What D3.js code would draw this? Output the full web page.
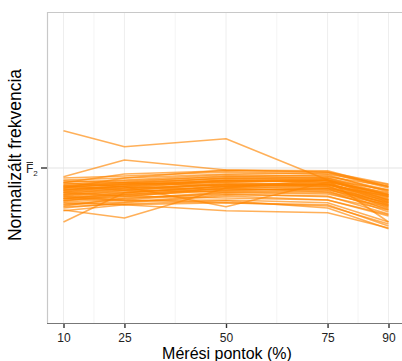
<!DOCTYPE html>
<html>
<head>
<meta charset="utf-8">
<script src="https://cdn.jsdelivr.net/npm/d3@7"></script>
<style>
  body { margin: 0; background: #fff; }
  svg { display: block; font-family: "Liberation Sans", Arial, sans-serif; }
</style>
</head>
<body>
<div id="chart"></div>
<script>
// measurement points (% of vowel duration)
var points = [10, 25, 50, 75, 90];
var xMinorBreaks = [17.5, 37.5, 62.5, 82.5];

// normalized F2 values, one row per curve (1 = mean F2)
var curves = [
  [1.093, 1.053, 1.073, 0.970, 0.933],
  [0.978, 1.020, 0.995, 0.990, 0.953],
  [0.895, 0.875, 0.950, 0.970, 0.920],
  [0.865, 0.938, 0.955, 0.960, 0.908],
  [0.945, 0.953, 0.903, 0.965, 0.933],
  [0.893, 0.908, 0.893, 0.888, 0.850],
  [0.975, 0.980, 0.990, 0.985, 0.958],
  [0.970, 0.975, 0.985, 0.988, 0.950],
  [0.965, 0.970, 0.983, 0.980, 0.945],
  [0.960, 0.968, 0.978, 0.983, 0.940],
  [0.958, 0.963, 0.975, 0.978, 0.955],
  [0.955, 0.965, 0.980, 0.975, 0.935],
  [0.953, 0.958, 0.970, 0.973, 0.930],
  [0.950, 0.960, 0.975, 0.970, 0.945],
  [0.948, 0.953, 0.965, 0.968, 0.925],
  [0.945, 0.955, 0.970, 0.963, 0.920],
  [0.943, 0.950, 0.968, 0.965, 0.938],
  [0.940, 0.948, 0.960, 0.960, 0.915],
  [0.938, 0.945, 0.963, 0.958, 0.930],
  [0.935, 0.950, 0.958, 0.955, 0.910],
  [0.933, 0.940, 0.955, 0.960, 0.923],
  [0.930, 0.943, 0.960, 0.953, 0.905],
  [0.928, 0.938, 0.953, 0.950, 0.918],
  [0.925, 0.933, 0.950, 0.955, 0.900],
  [0.923, 0.935, 0.948, 0.945, 0.913],
  [0.920, 0.930, 0.945, 0.948, 0.895],
  [0.918, 0.928, 0.950, 0.940, 0.908],
  [0.915, 0.923, 0.940, 0.943, 0.890],
  [0.910, 0.920, 0.938, 0.935, 0.903],
  [0.908, 0.915, 0.933, 0.930, 0.885],
  [0.905, 0.925, 0.935, 0.928, 0.895],
  [0.900, 0.913, 0.930, 0.920, 0.883],
  [0.968, 0.963, 0.955, 0.958, 0.928],
  [0.963, 0.953, 0.945, 0.950, 0.913],
  [0.955, 0.945, 0.940, 0.938, 0.898],
  [0.938, 0.930, 0.925, 0.920, 0.880],
  [0.925, 0.918, 0.920, 0.913, 0.865],
  [0.913, 0.908, 0.913, 0.908, 0.855],
  [0.903, 0.910, 0.918, 0.900, 0.848],
  [0.930, 0.920, 0.913, 0.905, 0.860],
  [0.963, 0.985, 0.993, 0.990, 0.960],
  [0.950, 0.975, 0.995, 0.993, 0.953],
  [0.945, 0.958, 0.965, 0.970, 0.865],
  [0.950, 0.963, 0.973, 0.975, 0.943],
  [0.940, 0.955, 0.968, 0.970, 0.928],
  [0.933, 0.945, 0.958, 0.963, 0.915],
  [0.923, 0.938, 0.953, 0.958, 0.920],
  [0.955, 0.960, 0.968, 0.968, 0.933],
  [0.918, 0.933, 0.943, 0.948, 0.905]
];

var width = 402, height = 361;
var panel = { left: 47, top: 12, right: width + 10, bottom: 323 };

var x = d3.scaleLinear().domain([10, 90]).range([63.5, 388.5]);
var y = d3.scaleLinear().domain([0.6125, 1.39]).range([panel.bottom, panel.top]);

var svg = d3.select("#chart").append("svg")
  .attr("width", width)
  .attr("height", height);

// grid
var grid = svg.append("g");
grid.selectAll("line.minor")
  .data(xMinorBreaks)
  .enter().append("line")
  .attr("x1", function(d) { return x(d); })
  .attr("x2", function(d) { return x(d); })
  .attr("y1", panel.top).attr("y2", panel.bottom)
  .attr("stroke", "#f4f4f4").attr("stroke-width", 1);
grid.selectAll("line.major")
  .data(points)
  .enter().append("line")
  .attr("x1", function(d) { return x(d); })
  .attr("x2", function(d) { return x(d); })
  .attr("y1", panel.top).attr("y2", panel.bottom)
  .attr("stroke", "#eeeeee").attr("stroke-width", 1);
grid.append("line")
  .attr("x1", panel.left).attr("x2", panel.right)
  .attr("y1", y(1)).attr("y2", y(1))
  .attr("stroke", "#e4e4e4").attr("stroke-width", 1.2);

// curves
var line = d3.line()
  .x(function(d, i) { return x(points[i]); })
  .y(function(d) { return y(d); });

svg.append("g").selectAll("path.curve")
  .data(curves)
  .enter().append("path")
  .attr("class", "curve")
  .attr("d", line)
  .attr("fill", "none")
  .attr("stroke", "#ff8500")
  .attr("stroke-opacity", 0.65)
  .attr("stroke-width", 1.6)
  .attr("stroke-linejoin", "round");

// panel border (left + top)
svg.append("path")
  .attr("d", "M" + (panel.left + 0.5) + "," + panel.bottom + "V" + (panel.top + 0.5) + "H" + panel.right)
  .attr("fill", "none")
  .attr("stroke", "#c8c8c8")
  .attr("stroke-width", 1.2);

// x axis
var xAxis = d3.axisBottom(x)
  .tickValues(points)
  .tickSize(5)
  .tickPadding(5)
  .tickFormat(d3.format("d"));
var gx = svg.append("g")
  .attr("transform", "translate(0," + panel.bottom + ")")
  .call(xAxis);
gx.select(".domain").remove();
gx.append("line")
  .attr("x1", panel.left).attr("x2", panel.right)
  .attr("y1", 0.5).attr("y2", 0.5)
  .attr("stroke", "#777").attr("stroke-width", 1.2);
gx.selectAll(".tick line").attr("stroke", "#333").attr("stroke-width", 1.4);
gx.selectAll(".tick text")
  .attr("fill", "#222")
  .style("font-size", "12px")
  .style("font-family", "Liberation Sans, Arial, sans-serif");

// y axis: single tick at mean F2
var gy = svg.append("g");
gy.append("line")
  .attr("x1", panel.left - 6).attr("x2", panel.left)
  .attr("y1", y(1)).attr("y2", y(1))
  .attr("stroke", "#333").attr("stroke-width", 1.4);
var f2 = gy.append("text")
  .attr("x", 26).attr("y", y(1) + 5)
  .attr("fill", "#222")
  .style("font-size", "12px");
f2.append("tspan").text("F");
f2.append("tspan").attr("dy", 3).style("font-size", "8px").text("2");
gy.append("line")
  .attr("x1", 26.5).attr("x2", 33)
  .attr("y1", y(1) - 5.5).attr("y2", y(1) - 5.5)
  .attr("stroke", "#222").attr("stroke-width", 0.9);

// titles
svg.append("text")
  .attr("x", x(50) + 1).attr("y", 359)
  .attr("text-anchor", "middle")
  .attr("fill", "#000")
  .style("font-size", "16px")
  .text("Mérési pontok (%)");

svg.append("text")
  .attr("transform", "translate(21,155) rotate(-90)")
  .attr("text-anchor", "middle")
  .attr("fill", "#000")
  .style("font-size", "17.5px")
  .text("Normalizált frekvencia");
</script>
</body>
</html>
